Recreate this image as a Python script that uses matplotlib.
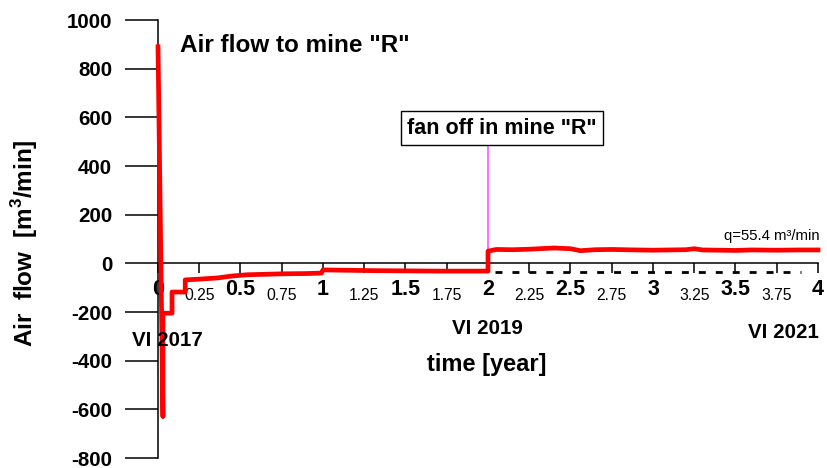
import numpy as np
import matplotlib
matplotlib.use("Agg")
import matplotlib.pyplot as plt

plt.rcParams['font.family'] = ['Liberation Sans', 'DejaVu Sans']
plt.rcParams['mathtext.fontset'] = 'custom'
plt.rcParams['mathtext.rm'] = 'Liberation Sans'
plt.rcParams['mathtext.bf'] = 'Liberation Sans:bold'

# Air flow (time in years from VI 2017, flow in m3/min)
time = [0, 0.03, 0.03, 0.085, 0.085, 0.165, 0.165, 0.25, 0.36, 0.45, 0.54,
        0.65, 0.76, 0.9, 0.99, 1.0, 1.1, 1.3, 1.5, 1.7, 1.9, 1.995, 2.0,
        2.0, 2.05, 2.15, 2.25, 2.4, 2.5, 2.56, 2.65, 2.75, 2.9, 3.0, 3.1,
        3.2, 3.25, 3.3, 3.4, 3.5, 3.6, 3.75, 3.9, 4.0]
flow = [890, -630, -205, -205, -118, -118, -68, -65, -60, -52, -47,
        -45, -43, -42, -40, -27, -28, -30, -31, -32, -32, -32, -32,
        50, 57, 56, 58, 63, 60, 52, 56, 57, 55, 54, 55,
        56, 60, 55, 54, 53, 55, 54, 55, 55]

# previous level drawn dashed after the fan switch-off
dash_t = [2.04, 3.9]
dash_q = [-37, -37]

major_x = [0, 0.5, 1, 1.5, 2, 2.5, 3, 3.5, 4]
major_lbl = ['0', '0.5', '1', '1.5', '2', '2.5', '3', '3.5', '4']
minor_x = [0.25, 0.75, 1.25, 1.75, 2.25, 2.75, 3.25, 3.75]
minor_lbl = ['0.25', '0.75', '1.25', '1.75', '2.25', '2.75', '3.25', '3.75']
y_ticks = list(range(-800, 1001, 200))

W, H = 828, 468
fig = plt.figure(figsize=(W / 100, H / 100), dpi=100)
ax = fig.add_axes([158 / W, 1 - 458 / H, (818 - 158) / W, (458 - 20) / H])

ax.plot(time, flow, color='#ff0000', lw=3.4, clip_on=False, zorder=3)
ax.plot(dash_t, dash_q, color='black', lw=2, dashes=(2.5, 3.6), zorder=2)
ax.vlines(2, 55, 487, color='#ff55ff', lw=1.2, zorder=1)

ax.set_xlim(0, 4)
ax.set_ylim(-800, 1000)

for s in ['top', 'right']:
    ax.spines[s].set_visible(False)
ax.spines['bottom'].set_position(('data', 0))
ax.spines['left'].set_linewidth(1.1)
ax.spines['bottom'].set_linewidth(1.1)

ax.set_yticks(y_ticks)
ax.set_yticklabels([str(v) for v in y_ticks], fontsize=14.8, fontweight='bold')
ax.tick_params(axis='y', direction='out', length=24, width=1.1, pad=9)

ax.set_xticks(major_x)
ax.set_xticklabels(major_lbl, fontsize=15.5, fontweight='bold')
ax.set_xticks(minor_x, minor=True)
ax.set_xticklabels(minor_lbl, minor=True, fontsize=11.3)
ax.tick_params(axis='x', which='major', direction='out', length=7, width=1.1, pad=4)
ax.tick_params(axis='x', which='minor', direction='out', length=7, width=1.1, pad=11)


def ftext(x, y, s, **kw):
    fig.text(x / W, 1 - y / H, s, **kw)


ftext(180, 45, 'Air flow to mine "R"', fontsize=17.5, fontweight='bold', ha='left', va='center')
ftext(502, 128, 'fan off in mine "R"', fontsize=15.5, fontweight='bold', ha='center', va='center',
      bbox=dict(boxstyle='square,pad=0.3', fc='white', ec='black', lw=1))
ftext(820, 236, 'q=55.4 m³/min', fontsize=10.7, ha='right', va='center')
ftext(167, 340, 'VI 2017', fontsize=14.8, fontweight='bold', ha='center', va='center')
ftext(487, 328, 'VI 2019', fontsize=14.8, fontweight='bold', ha='center', va='center')
ftext(783, 333, 'VI 2021', fontsize=14.8, fontweight='bold', ha='center', va='center')
ftext(487, 364, 'time [year]', fontsize=17, fontweight='bold', ha='center', va='center')
ftext(25, 243, r'Air  flow  [m$^{\mathbf{3}}$/min]', fontsize=17.5, fontweight='bold',
      ha='center', va='center', rotation=90)

fig.savefig('out.png', dpi=100)
